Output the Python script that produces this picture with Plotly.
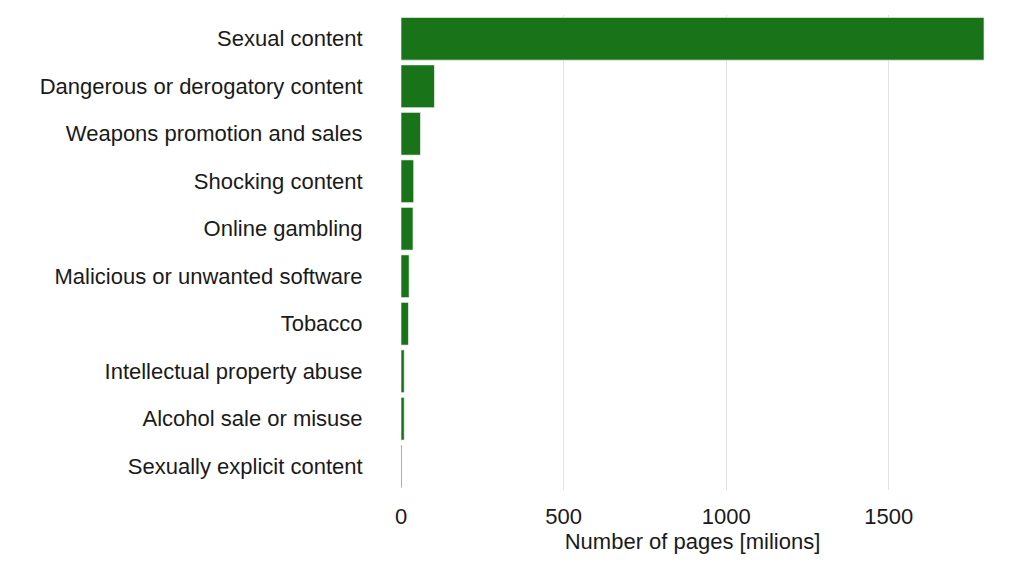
import plotly.graph_objects as go

categories = [
    "Sexual content",
    "Dangerous or derogatory content",
    "Weapons promotion and sales",
    "Shocking content",
    "Online gambling",
    "Malicious or unwanted software",
    "Tobacco",
    "Intellectual property abuse",
    "Alcohol sale or misuse",
    "Sexually explicit content",
]
pages_millions = [1793, 103, 60, 39, 37, 25, 23, 10, 10, 3]
x_ticks = [0, 500, 1000, 1500]

fig = go.Figure(go.Bar(
    x=pages_millions,
    y=categories,
    orientation="h",
    width=0.9,
    marker=dict(color="rgb(25,115,25)", line=dict(color="rgba(255,255,255,0.6)", width=1)),
))

fig.update_layout(
    width=1024, height=563,
    margin=dict(l=393, r=48, t=7, b=81),
    paper_bgcolor="white", plot_bgcolor="white",
    font=dict(family="Liberation Sans, Arial, sans-serif", size=22, color="#1a1a1a"),
    showlegend=False,
    bargap=0.1,
)
fig.update_xaxes(
    automargin=False,
    range=[0, 1793], tickvals=x_ticks, ticktext=[str(v) for v in x_ticks],
    showgrid=True, gridcolor="#e3e3e3", gridwidth=1, zeroline=False,
    showline=False, ticks="outside", ticklen=7, tickcolor="rgba(0,0,0,0)",
    title=dict(text="Number of pages [milions]", standoff=0, font=dict(size=22)),
    tickfont=dict(size=22),
)
fig.update_yaxes(
    automargin=False,
    categoryorder="array", categoryarray=categories, autorange=False,
    range=[9.5, -0.5],
    showgrid=False, zeroline=False, showline=False,
    ticks="outside", ticklen=33, tickcolor="rgba(0,0,0,0)",
    tickfont=dict(size=22),
)

fig.write_html("out.html")
